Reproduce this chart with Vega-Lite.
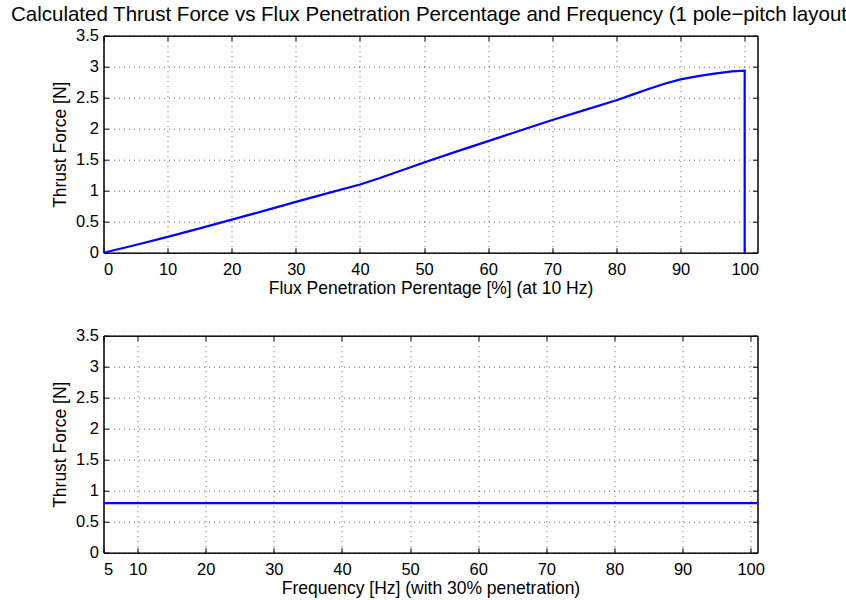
{
  "$schema": "https://vega.github.io/schema/vega-lite/v6.json",
  "padding": {"left": 10.5, "top": 4.7, "right": 0, "bottom": 0},
  "background": "white",
  "datasets": {
    "penetration": [
      {"i": 0, "pct": 0, "force": 0},
      {"i": 1, "pct": 5, "force": 0.125},
      {"i": 2, "pct": 10, "force": 0.255},
      {"i": 3, "pct": 15, "force": 0.393},
      {"i": 4, "pct": 20, "force": 0.533},
      {"i": 5, "pct": 25, "force": 0.675},
      {"i": 6, "pct": 30, "force": 0.82},
      {"i": 7, "pct": 35, "force": 0.96},
      {"i": 8, "pct": 40, "force": 1.1},
      {"i": 9, "pct": 43, "force": 1.2},
      {"i": 10, "pct": 46, "force": 1.31},
      {"i": 11, "pct": 50, "force": 1.454},
      {"i": 12, "pct": 55, "force": 1.63},
      {"i": 13, "pct": 60, "force": 1.8},
      {"i": 14, "pct": 65, "force": 1.97},
      {"i": 15, "pct": 70, "force": 2.14},
      {"i": 16, "pct": 75, "force": 2.3},
      {"i": 17, "pct": 80, "force": 2.46},
      {"i": 18, "pct": 82.5, "force": 2.55},
      {"i": 19, "pct": 85, "force": 2.64},
      {"i": 20, "pct": 87.5, "force": 2.725},
      {"i": 21, "pct": 90, "force": 2.795},
      {"i": 22, "pct": 92.5, "force": 2.845},
      {"i": 23, "pct": 95, "force": 2.885},
      {"i": 24, "pct": 98, "force": 2.925},
      {"i": 25, "pct": 100, "force": 2.935},
      {"i": 26, "pct": 100, "force": 0}
    ],
    "frequency": [
      {"i": 0, "freq": 5, "force": 0.8},
      {"i": 1, "freq": 101, "force": 0.8}
    ]
  },
  "config": {
    "font": "Liberation Sans",
    "view": {"stroke": "black", "strokeWidth": 1},
    "axis": {
      "labelFont": "Liberation Sans",
      "labelFontSize": 16.5,
      "labelColor": "black",
      "titleFont": "Liberation Sans",
      "titleFontSize": 17.5,
      "titleFontWeight": "normal",
      "titleColor": "black",
      "domainColor": "black",
      "tickColor": "black",
      "tickSize": -5,
      "gridColor": "black",
      "gridOpacity": 0.6,
      "gridDash": [1, 4],
      "labelPadding": 14
    },
    "title": {"font": "Liberation Sans", "fontSize": 20.5, "fontWeight": "normal", "color": "black"}
  },
  "vconcat": [
    {
      "width": 654,
      "height": 217,
      "title": {
        "text": "Calculated Thrust Force vs Flux Penetration Percentage and Frequency (1 pole\u2212pitch layout)",
        "anchor": "start",
        "frame": "group",
        "dx": -92.5,
        "baseline": "alphabetic",
        "offset": -14
      },
      "data": {"name": "penetration"},
      "resolve": {"axis": {"x": "independent", "y": "independent"}},
      "layer": [
        {
          "mark": {"type": "line", "color": "#0000ff", "strokeWidth": 2.2, "clip": true},
          "encoding": {
            "x": {"field": "pct", "type": "quantitative", "scale": {"domain": [0, 102], "nice": false},
                  "axis": {"orient": "bottom", "title": "Flux Penetration Perentage [%] (at 10 Hz)", "values": [0,10,20,30,40,50,60,70,80,90,100], "format": "d", "grid": true, "titlePadding": 1}},
            "y": {"field": "force", "type": "quantitative", "scale": {"domain": [0, 3.5], "nice": false},
                  "axis": {"orient": "left", "title": "Thrust Force [N]", "values": [0,0.5,1,1.5,2,2.5,3,3.5], "format": "~g", "grid": true, "labelPadding": 10, "titlePadding": 6}},
            "order": {"field": "i", "type": "quantitative"}
          }
        },
        {
          "mark": {"type": "line", "strokeOpacity": 0},
          "encoding": {
            "x": {"field": "pct", "type": "quantitative", "scale": {"domain": [0, 102], "nice": false},
                  "axis": {"orient": "top", "title": null, "labels": false, "grid": false, "minExtent": 0, "maxExtent": 0, "values": [0,10,20,30,40,50,60,70,80,90,100]}},
            "y": {"field": "force", "type": "quantitative", "scale": {"domain": [0, 3.5], "nice": false},
                  "axis": {"orient": "right", "title": null, "labels": false, "grid": false, "minExtent": 0, "maxExtent": 0, "values": [0,0.5,1,1.5,2,2.5,3,3.5]}},
            "order": {"field": "i", "type": "quantitative"}
          }
        }
      ]
    },
    {
      "width": 654,
      "height": 217,
      "data": {"name": "frequency"},
      "resolve": {"axis": {"x": "independent", "y": "independent"}},
      "layer": [
        {
          "mark": {"type": "line", "color": "#0000ff", "strokeWidth": 2.2, "clip": true},
          "encoding": {
            "x": {"field": "freq", "type": "quantitative", "scale": {"domain": [5, 101], "nice": false},
                  "axis": {"orient": "bottom", "title": "Frequency [Hz] (with 30% penetration)", "values": [5,10,20,30,40,50,60,70,80,90,100], "format": "d", "grid": true, "titlePadding": 1}},
            "y": {"field": "force", "type": "quantitative", "scale": {"domain": [0, 3.5], "nice": false},
                  "axis": {"orient": "left", "title": "Thrust Force [N]", "values": [0,0.5,1,1.5,2,2.5,3,3.5], "format": "~g", "grid": true, "labelPadding": 10, "titlePadding": 6}},
            "order": {"field": "i", "type": "quantitative"}
          }
        },
        {
          "mark": {"type": "line", "strokeOpacity": 0},
          "encoding": {
            "x": {"field": "freq", "type": "quantitative", "scale": {"domain": [5, 101], "nice": false},
                  "axis": {"orient": "top", "title": null, "labels": false, "grid": false, "minExtent": 0, "maxExtent": 0, "values": [5,10,20,30,40,50,60,70,80,90,100]}},
            "y": {"field": "force", "type": "quantitative", "scale": {"domain": [0, 3.5], "nice": false},
                  "axis": {"orient": "right", "title": null, "labels": false, "grid": false, "minExtent": 0, "maxExtent": 0, "values": [0,0.5,1,1.5,2,2.5,3,3.5]}},
            "order": {"field": "i", "type": "quantitative"}
          }
        }
      ]
    }
  ],
  "spacing": 29
}
